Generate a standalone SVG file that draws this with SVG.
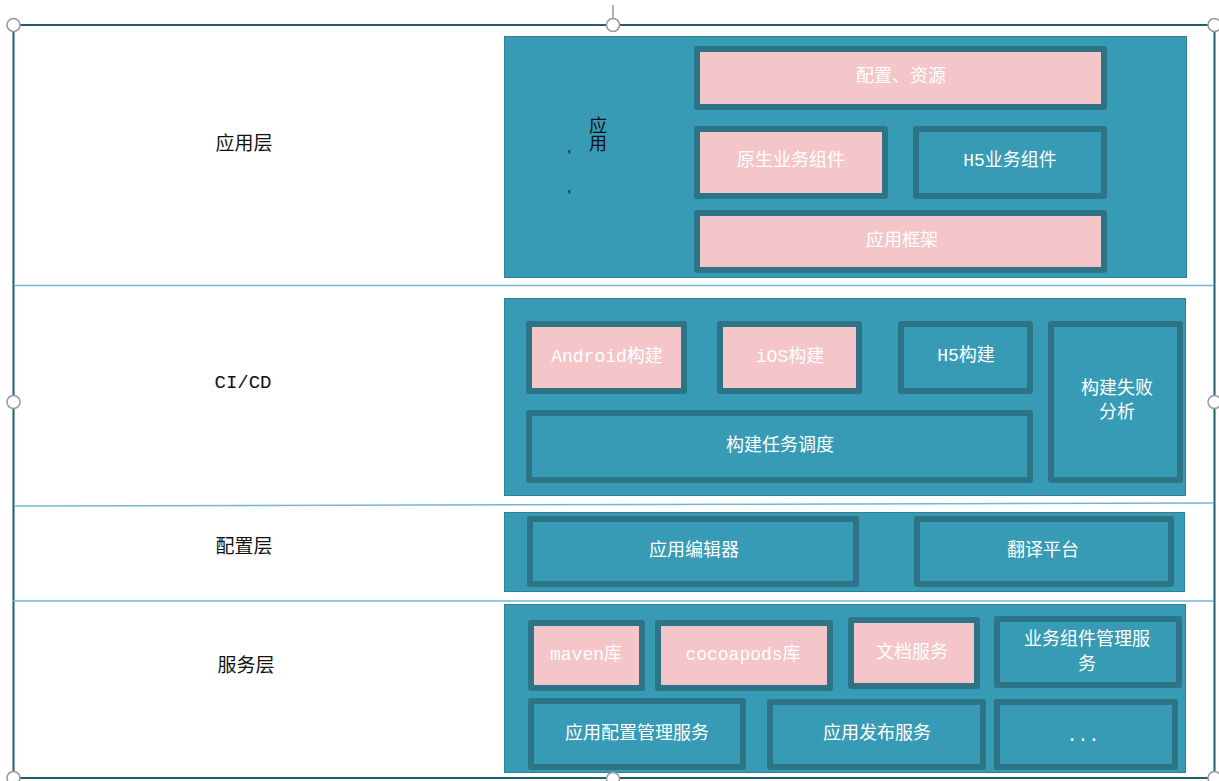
<svg xmlns="http://www.w3.org/2000/svg" width="1219" height="781" viewBox="0 0 1219 781">
<style>
.panel{fill:#389BB5;stroke:#2F8198;stroke-width:1}
.box{stroke:#2D7486;stroke-width:6;stroke-linejoin:round}
.pink{fill:#F4C6CA}
.teal{fill:#389BB5}
.t{font-family:"Liberation Mono","Noto Sans CJK SC",monospace;font-size:18px;fill:#FFFFFF;text-anchor:middle;dominant-baseline:central}
.lbl{font-family:"Liberation Mono","Noto Sans CJK SC",monospace;font-size:19px;fill:#111111;text-anchor:middle;dominant-baseline:central}
.v{font-family:"Noto Sans CJK SC",sans-serif;font-size:18px;fill:#111111;writing-mode:vertical-rl;text-anchor:start}
.sep{stroke:#6FB9CC;stroke-width:1.5;fill:none}
.frame{stroke:#1F5F70;stroke-width:2;fill:none}
.handle{fill:#FFFFFF;stroke:#9A9A9A;stroke-width:1.5}
</style>
<rect width="1219" height="781" fill="#FFFFFF"/>
<g id="frame">
<rect class="frame" x="13.5" y="25" width="1201" height="753"/>
<line x1="613" y1="5" x2="613" y2="18" stroke="#9A9A9A" stroke-width="1.5"/>
</g>
<g id="separators">
<line class="sep" x1="14" y1="285.5" x2="1214" y2="285.5"/>
<line class="sep" x1="14" y1="506" x2="1214" y2="503"/>
<line class="sep" x1="12" y1="601" x2="1214" y2="601"/>
</g>
<g id="layer-labels">
<text class="lbl" x="244" y="145">应用层</text>
<text class="lbl" x="243" y="383">CI/CD</text>
<text class="lbl" x="244" y="548">配置层</text>
<text class="lbl" x="246" y="667">服务层</text>
</g>
<g id="panel-app">
<rect class="panel" x="504.5" y="36.5" width="682" height="241"/>
<text class="v" x="598" y="116">应用</text>
<text x="567" y="152" style="font-family:'Liberation Sans',sans-serif;font-size:16px;fill:#111">,</text>
<text x="567" y="192" style="font-family:'Liberation Sans',sans-serif;font-size:16px;fill:#111">,</text>
</g>
<g id="n-config-res"><rect class="box pink" x="697" y="49" width="407" height="58"/><text class="t" x="901" y="77">配置、资源</text></g>
<g id="n-native"><rect class="box pink" x="697" y="129" width="188" height="67"/><text class="t" x="791" y="161">原生业务组件</text></g>
<g id="n-h5comp"><rect class="box teal" x="916" y="129" width="188" height="67"/><text class="t" x="1010" y="161">H5业务组件</text></g>
<g id="n-framework"><rect class="box pink" x="697" y="213" width="407" height="57"/><text class="t" x="902" y="241">应用框架</text></g>
<g id="panel-cicd"><rect class="panel" x="504.5" y="298.5" width="681" height="197"/></g>
<g id="n-android"><rect class="box pink" x="529" y="324" width="155" height="67"/><text class="t" x="607" y="357">Android构建</text></g>
<g id="n-ios"><rect class="box pink" x="720" y="324" width="139" height="67"/><text class="t" x="790" y="357">iOS构建</text></g>
<g id="n-h5build"><rect class="box teal" x="901" y="324" width="129" height="67"/><text class="t" x="966" y="356">H5构建</text></g>
<g id="n-fail"><rect class="box teal" x="1051" y="324" width="129" height="156"/><text class="t" x="1117" y="389">构建失败</text><text class="t" x="1117" y="413">分析</text></g>
<g id="n-schedule"><rect class="box teal" x="529" y="413" width="501" height="67"/><text class="t" x="780" y="446">构建任务调度</text></g>
<g id="panel-config"><rect class="panel" x="504.5" y="512.5" width="680" height="79"/></g>
<g id="n-editor"><rect class="box teal" x="530" y="519" width="326" height="65"/><text class="t" x="694" y="551">应用编辑器</text></g>
<g id="n-translate"><rect class="box teal" x="917" y="519" width="254" height="65"/><text class="t" x="1043" y="551">翻译平台</text></g>
<g id="panel-service"><rect class="panel" x="504.5" y="604.5" width="681" height="168"/></g>
<g id="n-maven"><rect class="box pink" x="531" y="623" width="111" height="65"/><text class="t" x="586" y="655">maven库</text></g>
<g id="n-cocoapods"><rect class="box pink" x="658" y="623" width="172" height="65"/><text class="t" x="743" y="655">cocoapods库</text></g>
<g id="n-docs"><rect class="box pink" x="851" y="620" width="126" height="66"/><text class="t" x="912" y="653">文档服务</text></g>
<g id="n-compmgmt"><rect class="box teal" x="997" y="619" width="182" height="66"/><text class="t" x="1087" y="640">业务组件管理服</text><text class="t" x="1087" y="665">务</text></g>
<g id="n-appconfig"><rect class="box teal" x="531" y="701" width="212" height="66"/><text class="t" x="637" y="734">应用配置管理服务</text></g>
<g id="n-publish"><rect class="box teal" x="770" y="702" width="213" height="65"/><text class="t" x="877" y="734">应用发布服务</text></g>
<g id="n-more"><rect class="box teal" x="997" y="702" width="178" height="65"/><text class="t" x="1083" y="736">...</text></g>
<g id="handles">
<circle class="handle" cx="13.5" cy="25" r="6.5"/>
<circle class="handle" cx="613" cy="25" r="6.5"/>
<circle class="handle" cx="1214.5" cy="25" r="6.5"/>
<circle class="handle" cx="13.5" cy="402" r="6.5"/>
<circle class="handle" cx="1214.5" cy="402" r="6.5"/>
<circle class="handle" cx="13.5" cy="778" r="6.5"/>
<circle class="handle" cx="613" cy="779" r="6.5"/>
<circle class="handle" cx="1214.5" cy="778" r="6.5"/>
</g>
</svg>
